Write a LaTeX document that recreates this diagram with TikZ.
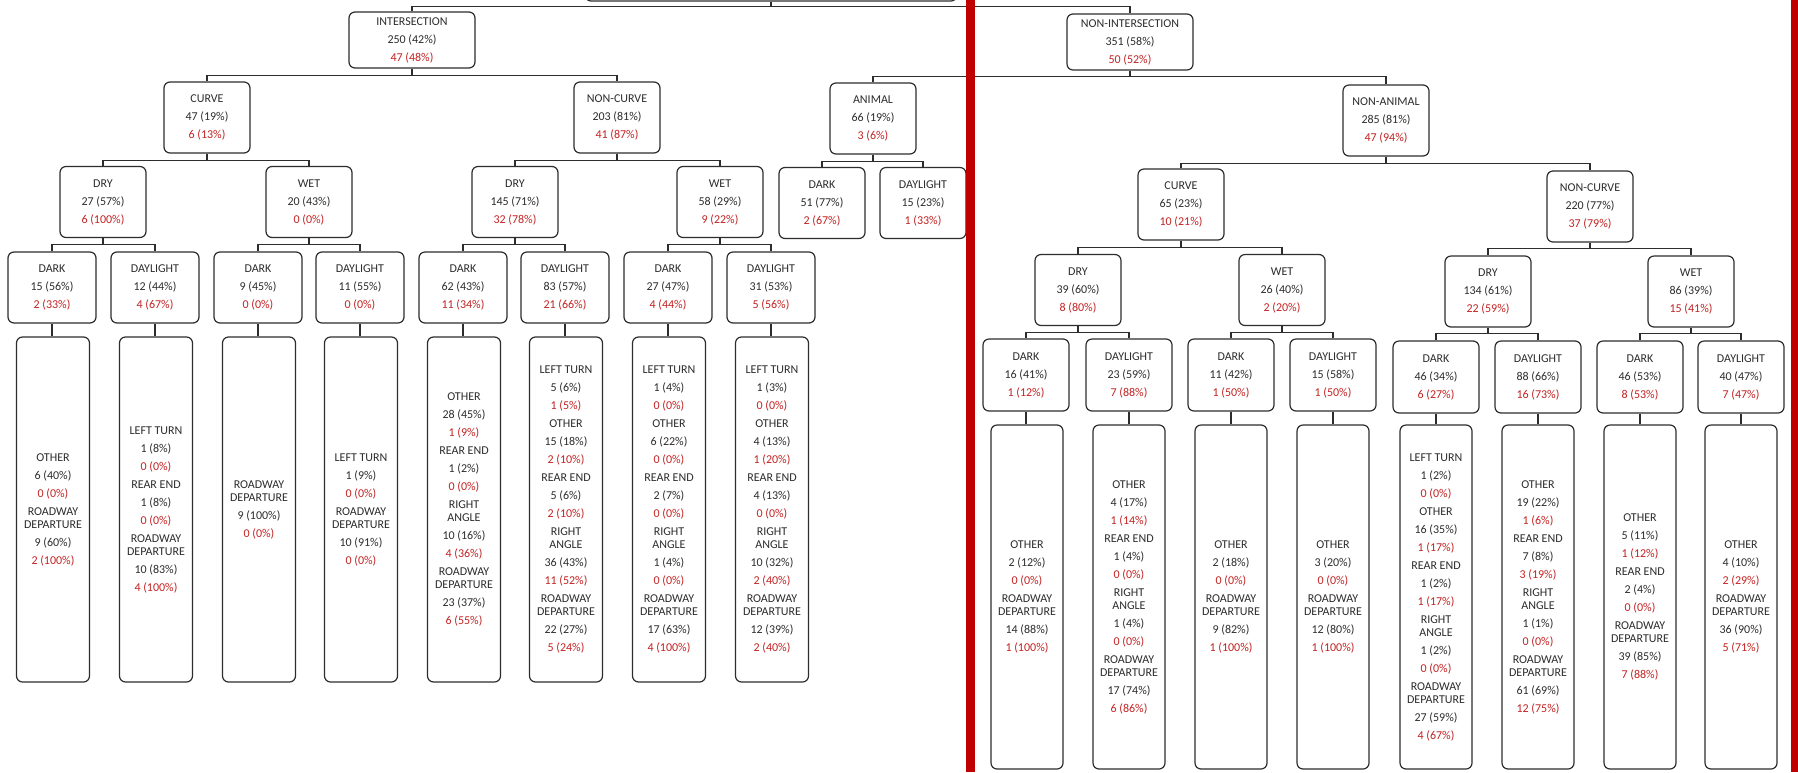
\documentclass[tikz,border=0pt]{standalone}
\usepackage{fontspec}
\setmainfont{Carlito}
\definecolor{redtxt}{RGB}{195,35,35}
\definecolor{barred}{RGB}{192,0,0}
\definecolor{ink}{RGB}{45,45,45}
\newcommand{\redt}[1]{\textcolor{redtxt}{#1}}
\newcommand{\twoln}[2]{#1\\[-2.5pt]#2}
\tikzset{
  box/.style={draw=ink, line width=0.6pt, rounded corners=3pt, fill=white, align=center,
    inner sep=0pt, font=\fontsize{6}{9}\selectfont, text=ink},
  topbox/.style={box, minimum width=63pt, minimum height=28pt},
  midbox/.style={box, minimum width=43pt, minimum height=35.5pt},
  lowbox/.style={box, minimum width=44pt, minimum height=35.5pt},
  rlowbox/.style={box, minimum width=43pt, minimum height=36pt},
  leafL/.style={box, minimum width=36.5pt, minimum height=172.5pt},
  leafR/.style={box, minimum width=36pt, minimum height=172pt},
  conn/.style={draw=ink, line width=0.6pt},
}
\begin{document}
\begin{tikzpicture}[x=0.5pt,y=-0.5pt]
\useasboundingbox (0,0) rectangle (1798,772);
\clip (0,0) rectangle (1798,772);
\fill[white] (0,0) rectangle (1798,772);

% root (cut off at top)
\node[box, minimum width=186pt, minimum height=30pt] (root) at (771,-29) {};

% level 1
\node[topbox] (int) at (412,40) {INTERSECTION\\250 (42\%)\\\redt{47 (48\%)}};
\node[topbox] (nint) at (1130,42) {NON-INTERSECTION\\351 (58\%)\\\redt{50 (52\%)}};

% level 2
\node[midbox] (lcurve) at (207,117.5) {CURVE\\47 (19\%)\\\redt{6 (13\%)}};
\node[midbox] (lnc) at (617,117.5) {NON-CURVE\\203 (81\%)\\\redt{41 (87\%)}};
\node[midbox] (anim) at (873,118.5) {ANIMAL\\66 (19\%)\\\redt{3 (6\%)}};
\node[midbox] (nanim) at (1386,120.5) {NON-ANIMAL\\285 (81\%)\\\redt{47 (94\%)}};

% level 3
\node[midbox] (ldryA) at (103,202) {DRY\\27 (57\%)\\\redt{6 (100\%)}};
\node[midbox] (lwetA) at (309,202) {WET\\20 (43\%)\\\redt{0 (0\%)}};
\node[midbox] (ldryB) at (515,202) {DRY\\145 (71\%)\\\redt{32 (78\%)}};
\node[midbox] (lwetB) at (720,202) {WET\\58 (29\%)\\\redt{9 (22\%)}};
\node[midbox] (adark) at (822,203) {DARK\\51 (77\%)\\\redt{2 (67\%)}};
\node[midbox] (aday) at (923,203) {DAYLIGHT\\15 (23\%)\\\redt{1 (33\%)}};
\node[midbox] (rcurve) at (1181,204.5) {CURVE\\65 (23\%)\\\redt{10 (21\%)}};
\node[midbox] (rnc) at (1590,206.5) {NON-CURVE\\220 (77\%)\\\redt{37 (79\%)}};

% right level 4
\node[midbox] (rdryA) at (1078,290) {DRY\\39 (60\%)\\\redt{8 (80\%)}};
\node[midbox] (rwetA) at (1282,290) {WET\\26 (40\%)\\\redt{2 (20\%)}};
\node[midbox] (rdryB) at (1488,291.5) {DRY\\134 (61\%)\\\redt{22 (59\%)}};
\node[midbox] (rwetB) at (1691,291.5) {WET\\86 (39\%)\\\redt{15 (41\%)}};

% left light level
\node[lowbox] (l1) at (52,287.5) {DARK\\15 (56\%)\\\redt{2 (33\%)}};
\node[lowbox] (l2) at (155,287.5) {DAYLIGHT\\12 (44\%)\\\redt{4 (67\%)}};
\node[lowbox] (l3) at (258,287.5) {DARK\\9 (45\%)\\\redt{0 (0\%)}};
\node[lowbox] (l4) at (360,287.5) {DAYLIGHT\\11 (55\%)\\\redt{0 (0\%)}};
\node[lowbox] (l5) at (463,287.5) {DARK\\62 (43\%)\\\redt{11 (34\%)}};
\node[lowbox] (l6) at (565,287.5) {DAYLIGHT\\83 (57\%)\\\redt{21 (66\%)}};
\node[lowbox] (l7) at (668,287.5) {DARK\\27 (47\%)\\\redt{4 (44\%)}};
\node[lowbox] (l8) at (771,287.5) {DAYLIGHT\\31 (53\%)\\\redt{5 (56\%)}};

% right light level
\node[rlowbox] (r1) at (1026,375) {DARK\\16 (41\%)\\\redt{1 (12\%)}};
\node[rlowbox] (r2) at (1129,375) {DAYLIGHT\\23 (59\%)\\\redt{7 (88\%)}};
\node[rlowbox] (r3) at (1231,375) {DARK\\11 (42\%)\\\redt{1 (50\%)}};
\node[rlowbox] (r4) at (1333,375) {DAYLIGHT\\15 (58\%)\\\redt{1 (50\%)}};
\node[rlowbox] (r5) at (1436,377) {DARK\\46 (34\%)\\\redt{6 (27\%)}};
\node[rlowbox] (r6) at (1538,377) {DAYLIGHT\\88 (66\%)\\\redt{16 (73\%)}};
\node[rlowbox] (r7) at (1640,377) {DARK\\46 (53\%)\\\redt{8 (53\%)}};
\node[rlowbox] (r8) at (1741,377) {DAYLIGHT\\40 (47\%)\\\redt{7 (47\%)}};

% left leaves
\node[leafL] (lf1) at (53,509.5) {OTHER\\6 (40\%)\\\redt{0 (0\%)}\\\twoln{ROADWAY}{DEPARTURE}\\9 (60\%)\\\redt{2 (100\%)}};
\node[leafL] (lf2) at (156,509.5) {LEFT TURN\\1 (8\%)\\\redt{0 (0\%)}\\REAR END\\1 (8\%)\\\redt{0 (0\%)}\\\twoln{ROADWAY}{DEPARTURE}\\10 (83\%)\\\redt{4 (100\%)}};
\node[leafL] (lf3) at (259,509.5) {\twoln{ROADWAY}{DEPARTURE}\\9 (100\%)\\\redt{0 (0\%)}};
\node[leafL] (lf4) at (361,509.5) {LEFT TURN\\1 (9\%)\\\redt{0 (0\%)}\\\twoln{ROADWAY}{DEPARTURE}\\10 (91\%)\\\redt{0 (0\%)}};
\node[leafL] (lf5) at (464,509.5) {OTHER\\28 (45\%)\\\redt{1 (9\%)}\\REAR END\\1 (2\%)\\\redt{0 (0\%)}\\\twoln{RIGHT}{ANGLE}\\10 (16\%)\\\redt{4 (36\%)}\\\twoln{ROADWAY}{DEPARTURE}\\23 (37\%)\\\redt{6 (55\%)}};
\node[leafL] (lf6) at (566,509.5) {LEFT TURN\\5 (6\%)\\\redt{1 (5\%)}\\OTHER\\15 (18\%)\\\redt{2 (10\%)}\\REAR END\\5 (6\%)\\\redt{2 (10\%)}\\\twoln{RIGHT}{ANGLE}\\36 (43\%)\\\redt{11 (52\%)}\\\twoln{ROADWAY}{DEPARTURE}\\22 (27\%)\\\redt{5 (24\%)}};
\node[leafL] (lf7) at (669,509.5) {LEFT TURN\\1 (4\%)\\\redt{0 (0\%)}\\OTHER\\6 (22\%)\\\redt{0 (0\%)}\\REAR END\\2 (7\%)\\\redt{0 (0\%)}\\\twoln{RIGHT}{ANGLE}\\1 (4\%)\\\redt{0 (0\%)}\\\twoln{ROADWAY}{DEPARTURE}\\17 (63\%)\\\redt{4 (100\%)}};
\node[leafL] (lf8) at (772,509.5) {LEFT TURN\\1 (3\%)\\\redt{0 (0\%)}\\OTHER\\4 (13\%)\\\redt{1 (20\%)}\\REAR END\\4 (13\%)\\\redt{0 (0\%)}\\\twoln{RIGHT}{ANGLE}\\10 (32\%)\\\redt{2 (40\%)}\\\twoln{ROADWAY}{DEPARTURE}\\12 (39\%)\\\redt{2 (40\%)}};

% right leaves
\node[leafR] (rf1) at (1027,597) {OTHER\\2 (12\%)\\\redt{0 (0\%)}\\\twoln{ROADWAY}{DEPARTURE}\\14 (88\%)\\\redt{1 (100\%)}};
\node[leafR] (rf2) at (1129,597) {OTHER\\4 (17\%)\\\redt{1 (14\%)}\\REAR END\\1 (4\%)\\\redt{0 (0\%)}\\\twoln{RIGHT}{ANGLE}\\1 (4\%)\\\redt{0 (0\%)}\\\twoln{ROADWAY}{DEPARTURE}\\17 (74\%)\\\redt{6 (86\%)}};
\node[leafR] (rf3) at (1231,597) {OTHER\\2 (18\%)\\\redt{0 (0\%)}\\\twoln{ROADWAY}{DEPARTURE}\\9 (82\%)\\\redt{1 (100\%)}};
\node[leafR] (rf4) at (1333,597) {OTHER\\3 (20\%)\\\redt{0 (0\%)}\\\twoln{ROADWAY}{DEPARTURE}\\12 (80\%)\\\redt{1 (100\%)}};
\node[leafR] (rf5) at (1436,597) {LEFT TURN\\1 (2\%)\\\redt{0 (0\%)}\\OTHER\\16 (35\%)\\\redt{1 (17\%)}\\REAR END\\1 (2\%)\\\redt{1 (17\%)}\\\twoln{RIGHT}{ANGLE}\\1 (2\%)\\\redt{0 (0\%)}\\\twoln{ROADWAY}{DEPARTURE}\\27 (59\%)\\\redt{4 (67\%)}};
\node[leafR] (rf6) at (1538,597) {OTHER\\19 (22\%)\\\redt{1 (6\%)}\\REAR END\\7 (8\%)\\\redt{3 (19\%)}\\\twoln{RIGHT}{ANGLE}\\1 (1\%)\\\redt{0 (0\%)}\\\twoln{ROADWAY}{DEPARTURE}\\61 (69\%)\\\redt{12 (75\%)}};
\node[leafR] (rf7) at (1640,597) {OTHER\\5 (11\%)\\\redt{1 (12\%)}\\REAR END\\2 (4\%)\\\redt{0 (0\%)}\\\twoln{ROADWAY}{DEPARTURE}\\39 (85\%)\\\redt{7 (88\%)}};
\node[leafR] (rf8) at (1741,597) {OTHER\\4 (10\%)\\\redt{2 (29\%)}\\\twoln{ROADWAY}{DEPARTURE}\\36 (90\%)\\\redt{5 (71\%)}};

% connectors
\draw[conn] (root.south) -- ++(0,5) -| (int.north);
\draw[conn] (root.south) -- ++(0,5) -| (nint.north);
\draw[conn] (int.south) -- ++(0,7) -| (lcurve.north);
\draw[conn] (int.south) -- ++(0,7) -| (lnc.north);
\draw[conn] (nint.south) -- ++(0,6) -| (anim.north);
\draw[conn] (nint.south) -- ++(0,6) -| (nanim.north);
\draw[conn] (lcurve.south) -- ++(0,7) -| (ldryA.north);
\draw[conn] (lcurve.south) -- ++(0,7) -| (lwetA.north);
\draw[conn] (lnc.south) -- ++(0,7) -| (ldryB.north);
\draw[conn] (lnc.south) -- ++(0,7) -| (lwetB.north);
\draw[conn] (anim.south) -- ++(0,7) -| (adark.north);
\draw[conn] (anim.south) -- ++(0,7) -| (aday.north);
\draw[conn] (nanim.south) -- ++(0,7) -| (rcurve.north);
\draw[conn] (nanim.south) -- ++(0,7) -| (rnc.north);
\draw[conn] (ldryA.south) -- ++(0,6) -| (l1.north);
\draw[conn] (ldryA.south) -- ++(0,6) -| (l2.north);
\draw[conn] (lwetA.south) -- ++(0,6) -| (l3.north);
\draw[conn] (lwetA.south) -- ++(0,6) -| (l4.north);
\draw[conn] (ldryB.south) -- ++(0,6) -| (l5.north);
\draw[conn] (ldryB.south) -- ++(0,6) -| (l6.north);
\draw[conn] (lwetB.south) -- ++(0,6) -| (l7.north);
\draw[conn] (lwetB.south) -- ++(0,6) -| (l8.north);
\draw[conn] (rcurve.south) -- ++(0,7) -| (rdryA.north);
\draw[conn] (rcurve.south) -- ++(0,7) -| (rwetA.north);
\draw[conn] (rnc.south) -- ++(0,6) -| (rdryB.north);
\draw[conn] (rnc.south) -- ++(0,6) -| (rwetB.north);
\draw[conn] (rdryA.south) -- ++(0,6) -| (r1.north);
\draw[conn] (rdryA.south) -- ++(0,6) -| (r2.north);
\draw[conn] (rwetA.south) -- ++(0,6) -| (r3.north);
\draw[conn] (rwetA.south) -- ++(0,6) -| (r4.north);
\draw[conn] (rdryB.south) -- ++(0,6) -| (r5.north);
\draw[conn] (rdryB.south) -- ++(0,6) -| (r6.north);
\draw[conn] (rwetB.south) -- ++(0,6) -| (r7.north);
\draw[conn] (rwetB.south) -- ++(0,6) -| (r8.north);
\foreach \p/\c in {l1/lf1,l2/lf2,l3/lf3,l4/lf4,l5/lf5,l6/lf6,l7/lf7,l8/lf8,r1/rf1,r2/rf2,r3/rf3,r4/rf4,r5/rf5,r6/rf6,r7/rf7,r8/rf8}
  \draw[conn] (\p.south) -- (\p.south |- \c.north);

% red separators
\fill[barred] (966,0) rectangle (975,772);
\fill[barred] (1791,0) rectangle (1798,772);
\end{tikzpicture}
\end{document}
